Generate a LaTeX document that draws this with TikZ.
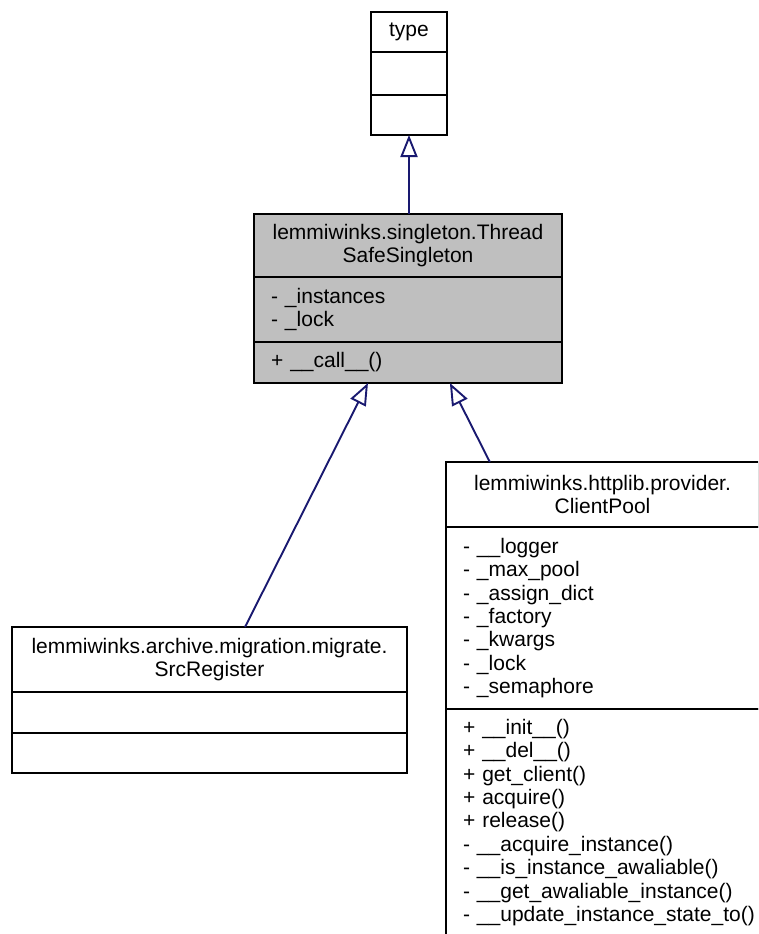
\documentclass[tikz,border=0pt]{standalone}
\usepackage{fontspec}
\setmainfont{Liberation Sans}
\usetikzlibrary{arrows.meta, positioning, calc}
\definecolor{edgeblue}{RGB}{25,25,112}
\definecolor{basegray}{RGB}{191,191,191}

\tikzset{
  part/.style={draw=black, line width=1.7pt, inner xsep=17pt, inner ysep=0pt, outer sep=0pt,
    font=\fontsize{21}{23.4}\selectfont},
  titlepart/.style={part, align=center},
  memberpart/.style={part, align=left, text width=#1},
  inherit/.style={draw=edgeblue, line width=1.9pt,
    -{Triangle[open, length=22pt, width=17pt]}}
}

\begin{document}
\begin{tikzpicture}[x=1pt, y=-1pt]
    % Canvas
    \clip (0,0) rectangle (758,934);
    \fill[white] (0,0) rectangle (758,934);

    % Metaclass
    \node[titlepart, minimum width=76, minimum height=40, anchor=north west] (typeTitle) at (371,12) {type};
    \node[part, minimum width=76, minimum height=43, anchor=north] (typeAttr) at (typeTitle.south) {};
    \node[part, minimum width=76, minimum height=40, anchor=north] (typeMeth) at (typeAttr.south) {};

    % Base class
    \node[titlepart, fill=basegray, minimum width=308, minimum height=63, anchor=north west] (tssTitle) at (254,214)
        {lemmiwinks.singleton.Thread\\SafeSingleton};
    \node[memberpart=274pt, fill=basegray, minimum height=65, anchor=north] (tssAttr) at (tssTitle.south)
        {- \_instances\\- \_lock};
    \node[memberpart=274pt, fill=basegray, minimum height=41, anchor=north] (tssMeth) at (tssAttr.south)
        {+ \_\_call\_\_()};

    % Left child
    \node[titlepart, minimum width=395, minimum height=65, anchor=north west] (srcTitle) at (12,627)
        {lemmiwinks.archive.migration.migrate.\\SrcRegister};
    \node[part, minimum width=395, minimum height=41, anchor=north] (srcAttr) at (srcTitle.south) {};
    \node[part, minimum width=395, minimum height=40, anchor=north] (srcMeth) at (srcAttr.south) {};

    % Right child (runs past the edge)
    \node[titlepart, minimum width=313, minimum height=65, anchor=north west] (poolTitle) at (446,462)
        {lemmiwinks.httplib.provider.\\ClientPool};
    \node[memberpart=296pt, minimum height=182, anchor=north west] (poolAttr) at (poolTitle.south west)
        {- \_\_logger\\- \_max\_pool\\- \_assign\_dict\\- \_factory\\- \_kwargs\\- \_lock\\- \_semaphore};
    \node[memberpart=296pt, minimum height=227, anchor=north west] (poolMeth) at (poolAttr.south west)
        {+ \_\_init\_\_()\\+ \_\_del\_\_()\\+ get\_client()\\+ acquire()\\+ release()\\
         - \_\_acquire\_instance()\\- \_\_is\_instance\_awaliable()\\- \_\_get\_awaliable\_instance()\\
         - \_\_update\_instance\_state\_to()};

    % Inheritance
    \draw[inherit] (tssTitle.north -| typeMeth.south) -- (typeMeth.south);
    \draw[inherit] ($(srcTitle.north west)!0.59!(srcTitle.north east)$) -- ($(tssMeth.south west)!0.37!(tssMeth.south east)$);
    \draw[inherit] ($(poolTitle.north west)!0.14!(poolTitle.north east)$) -- ($(tssMeth.south west)!0.636!(tssMeth.south east)$);
\end{tikzpicture}
\end{document}
